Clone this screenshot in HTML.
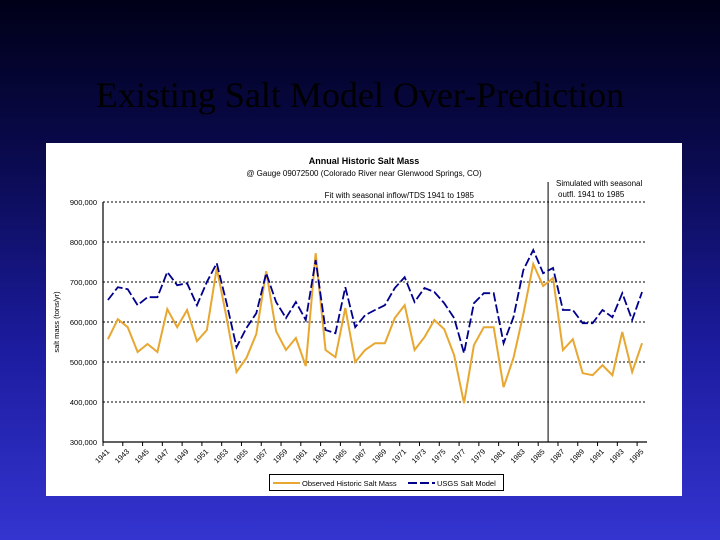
<!DOCTYPE html>
<html><head><meta charset="utf-8"><style>
html,body{margin:0;padding:0}
body{width:720px;height:540px;overflow:hidden;background:linear-gradient(#000018 0%,#0a0a50 30%,#1c1ca0 65%,#3434d0 100%);position:relative;font-family:"Liberation Sans",sans-serif}
#title{position:absolute;left:0;top:74px;width:720px;text-align:center;font-family:"Liberation Serif",serif;font-size:36px;color:#000}
#panel{position:absolute;left:46px;top:143px;width:636px;height:353px;background:#fff}
svg{position:absolute;left:0;top:0}
</style></head><body>
<div id="title">Existing Salt Model Over-Prediction</div>
<div id="panel"></div>
<svg id="chart" width="720" height="540"></svg>
<script>
const years=[];for(let y=1941;y<=1995;y++)years.push(y);
const observed=[557,607,587,525,545,525,632,587,630,552,580,735,610,475,510,570,727,577,530,560,490,772,530,512,635,500,530,547,547,610,642,530,562,605,582,517,397,542,587,587,437,510,620,745,690,710,530,557,472,467,492,467,575,475,547];
const usgs=[655,687,682,642,662,662,725,692,697,642,700,747,647,537,585,622,722,650,610,650,605,755,580,572,687,587,617,630,642,685,712,650,685,675,647,610,522,647,672,672,547,612,730,780,722,735,630,630,597,597,630,612,672,605,675];
const yTicks=[300,400,500,600,700,800,900];
const xLabelYears=[1941,1943,1945,1947,1949,1951,1953,1955,1957,1959,1961,1963,1965,1967,1969,1971,1973,1975,1977,1979,1981,1983,1985,1987,1989,1991,1993,1995];
const X0=103,X1=647,Y0=442,Y1=202;
const step=(X1-X0)/years.length;
const xs=i=>X0+(i+0.5)*step;
const ys=v=>Y0-(v-300)/(900-300)*(Y0-Y1);
const NS="http://www.w3.org/2000/svg";
const svg=document.getElementById('chart');
function mk(t,a){const e=document.createElementNS(NS,t);for(const k in a)e.setAttribute(k,a[k]);svg.appendChild(e);return e;}
function txt(x,y,s,a){const e=mk('text',Object.assign({x:x,y:y,'font-size':8,fill:'#000','font-family':'Liberation Sans, sans-serif'},a||{}));e.textContent=s;return e;}
let e;
e=txt(364,164,'Annual Historic Salt Mass',{'text-anchor':'middle','font-weight':'bold','font-size':9});


e=txt(364,176,'@ Gauge 09072500 (Colorado River near Glenwood Springs, CO)',{'text-anchor':'middle'});


e=txt(474,198,'Fit with seasonal inflow/TDS 1941 to 1985',{'text-anchor':'end'});


e=txt(556,186,'Simulated with seasonal');


e=txt(558,197,'outfl. 1941 to 1985');


yTicks.forEach(v=>{
 if(v>300){e=mk('line',{x1:X0,x2:X1,y1:ys(v),y2:ys(v),stroke:'#000','stroke-width':1,'stroke-dasharray':'2,2'});
 
 }
 e=txt(97,ys(v)+3,(v)+',000',{'text-anchor':'end','font-size':7.5});
 
 
});
e=mk('line',{x1:X0,x2:X0,y1:Y1,y2:Y0,stroke:'#000','stroke-width':1.2});


e=mk('line',{x1:X0,x2:X1,y1:Y0,y2:Y0,stroke:'#000','stroke-width':1.2});


e=txt(0,0,'salt mass (tons/yr)',{'text-anchor':'middle','font-size':7.5,transform:'translate(59,322) rotate(-90)'});


for(let i=0;i<=years.length;i+=2){
 e=mk('line',{x1:X0+i*step,x2:X0+i*step,y1:Y0,y2:Y0+4,stroke:'#000'});
 
 
}
xLabelYears.forEach(yr=>{
 const i=years.indexOf(yr);const x=xs(i)+2,y=Y0+10;
 e=txt(x,y,String(yr),{'text-anchor':'end','font-size':7.5,transform:'rotate(-45 '+x+' '+y+')'});
 
 
});
const split=years.indexOf(1986);
e=mk('line',{x1:X0+split*step,x2:X0+split*step,y1:182,y2:Y0,stroke:'#000','stroke-width':1});


e=mk('polyline',{points:observed.map((v,i)=>xs(i)+','+ys(v)).join(' '),fill:'none',stroke:'#e8a730','stroke-width':2});


e=mk('polyline',{points:usgs.map((v,i)=>xs(i)+','+ys(v)).join(' '),fill:'none',stroke:'#00008c','stroke-width':1.8,'stroke-dasharray':'9,3'});


e=mk('rect',{x:269.5,y:474.5,width:234,height:16,fill:'#fff',stroke:'#000'});


e=mk('line',{x1:273,x2:300,y1:483,y2:483,stroke:'#e8a730','stroke-width':2});


e=txt(302,486,'Observed Historic Salt Mass',{'font-size':7.5});


e=mk('line',{x1:408,x2:435,y1:483,y2:483,stroke:'#00008c','stroke-width':2,'stroke-dasharray':'9,3'});


e=txt(437,486,'USGS Salt Model',{'font-size':7.5});


</script>
</body></html>
